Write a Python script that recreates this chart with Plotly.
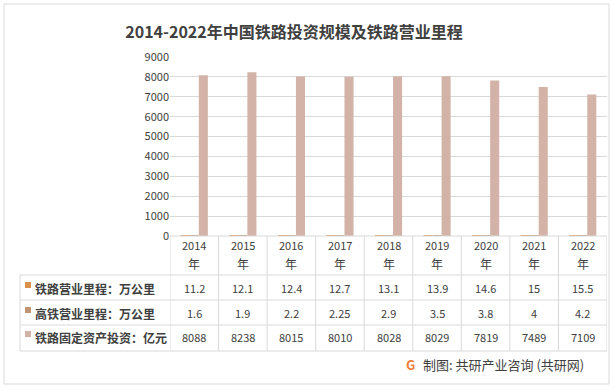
import plotly.graph_objects as go

# ---- data ----
years = ["2014", "2015", "2016", "2017", "2018", "2019", "2020", "2021", "2022"]
rail_km = [11.2, 12.1, 12.4, 12.7, 13.1, 13.9, 14.6, 15, 15.5]          # 铁路营业里程：万公里
hsr_km = [1.6, 1.9, 2.2, 2.25, 2.9, 3.5, 3.8, 4, 4.2]                  # 高铁营业里程：万公里
invest = [8088, 8238, 8015, 8010, 8028, 8029, 7819, 7489, 7109]        # 铁路固定资产投资：亿元
series_names = ["铁路营业里程：万公里", "高铁营业里程：万公里", "铁路固定资产投资：亿元"]
series_values = [rail_km, hsr_km, invest]
series_colors = ["#D9914B", "#BF9574", "#D3B3A7"]
y_ticks = [0, 1000, 2000, 3000, 4000, 5000, 6000, 7000, 8000, 9000]

title_text = "2014-2022年中国铁路投资规模及铁路营业里程"
source_text = "制图: 共研产业咨询 (共研网)"

W, H = 614, 390
PL, PR, PT, PB = 170, 607, 57, 236   # plot area in pixels

def px(x):
    return (x - PL) / (PR - PL)

def py(y):
    return (PB - y) / (PB - PT)

FONT = "Noto Sans CJK SC"
TXT = "#404040"
GRID = "#D9D9D9"

fig = go.Figure()
for name, vals, col in zip(series_names, series_values, series_colors):
    fig.add_trace(go.Bar(x=years, y=vals, name=name, marker=dict(color=col, line=dict(width=0)),
                         hoverinfo="x+y+name"))

shapes = []
annotations = []

# outer border
shapes.append(dict(type="rect", xref="paper", yref="paper", x0=px(4), x1=px(609), y0=py(384), y1=py(4),
                   line=dict(color=GRID, width=1), fillcolor="rgba(0,0,0,0)", layer="below"))

row_lines = [275, 300, 325, 351]
row_centers = [288, 313, 337]
# horizontal table lines
shapes.append(dict(type="line", xref="paper", yref="paper", x0=px(PL), x1=px(PR), y0=0, y1=0,
                   line=dict(color=GRID, width=1)))
for yl in row_lines:
    shapes.append(dict(type="line", xref="paper", yref="paper", x0=px(20), x1=px(PR), y0=py(yl), y1=py(yl),
                       line=dict(color=GRID, width=1)))
# vertical table lines at category boundaries
for i in range(len(years) + 1):
    shapes.append(dict(type="line", xref="x", yref="paper", x0=i - 0.5, x1=i - 0.5, y0=0, y1=py(351),
                       line=dict(color=GRID, width=1)))
shapes.append(dict(type="line", xref="paper", yref="paper", x0=px(20), x1=px(20), y0=py(275), y1=py(351),
                   line=dict(color=GRID, width=1)))

# header years (category index positions)
for i, yr in enumerate(years):
    annotations.append(dict(x=i, xref="x", y=py(245), yref="paper", text=yr, showarrow=False,
                            font=dict(family=FONT, size=11, color=TXT), xanchor="center", yanchor="middle"))
    annotations.append(dict(x=i, xref="x", y=py(263), yref="paper", text="年", showarrow=False,
                            font=dict(family=FONT, size=12, color=TXT), xanchor="center", yanchor="middle"))

# rows
for r, (name, vals, col) in enumerate(zip(series_names, series_values, series_colors)):
    yc = row_centers[r]
    shapes.append(dict(type="rect", xref="paper", yref="paper", x0=px(25), x1=px(31), y0=py(yc), y1=py(yc - 6),
                       fillcolor=col, line=dict(width=0)))
    annotations.append(dict(x=px(33), xref="paper", y=py(yc), yref="paper", text="<b>" + name + "</b>",
                            showarrow=False, font=dict(family=FONT, size=12, color=TXT),
                            xanchor="left", yanchor="middle"))
    for i, v in enumerate(vals):
        annotations.append(dict(x=i, xref="x", y=py(yc), yref="paper", text=f"{v:g}", showarrow=False,
                                font=dict(family=FONT, size=11, color=TXT), xanchor="center", yanchor="middle"))

# footer with logo
annotations.append(dict(x=px(410), xref="paper", y=py(364), yref="paper", text="<b>G</b>", showarrow=False,
                        font=dict(family=FONT, size=13, color="#F07D3A"), xanchor="center", yanchor="middle"))
annotations.append(dict(x=px(421), xref="paper", y=py(364), yref="paper", text=source_text, showarrow=False,
                        font=dict(family=FONT, size=13, color=TXT), xanchor="left", yanchor="middle"))

fig.update_layout(
    width=W, height=H,
    margin=dict(l=PL, r=W - PR, t=PT, b=H - PB, pad=0),
    paper_bgcolor="white", plot_bgcolor="white",
    barmode="group", bargap=0.44, bargroupgap=0,
    showlegend=False,
    title=dict(text="<b>" + title_text + "</b>", x=294 / W, xref="container", xanchor="center",
               y=1 - 32 / H, yref="container", yanchor="middle",
               font=dict(family=FONT, size=16, color=TXT)),
    xaxis=dict(type="category", range=[-0.5, 8.5], showticklabels=False, showgrid=False,
               zeroline=False, showline=False, ticks=""),
    yaxis=dict(range=[0, 9000], tickvals=y_ticks, showgrid=True, gridcolor=GRID, gridwidth=1,
               zeroline=False, showline=False, ticks="", ticklen=0,
               tickfont=dict(family=FONT, size=11, color=TXT)),
    shapes=shapes, annotations=annotations,
    font=dict(family=FONT),
)

fig.write_html("out.html", config={"displayModeBar": False},
               post_script="document.body.style.margin='0';document.body.style.padding='0';")
